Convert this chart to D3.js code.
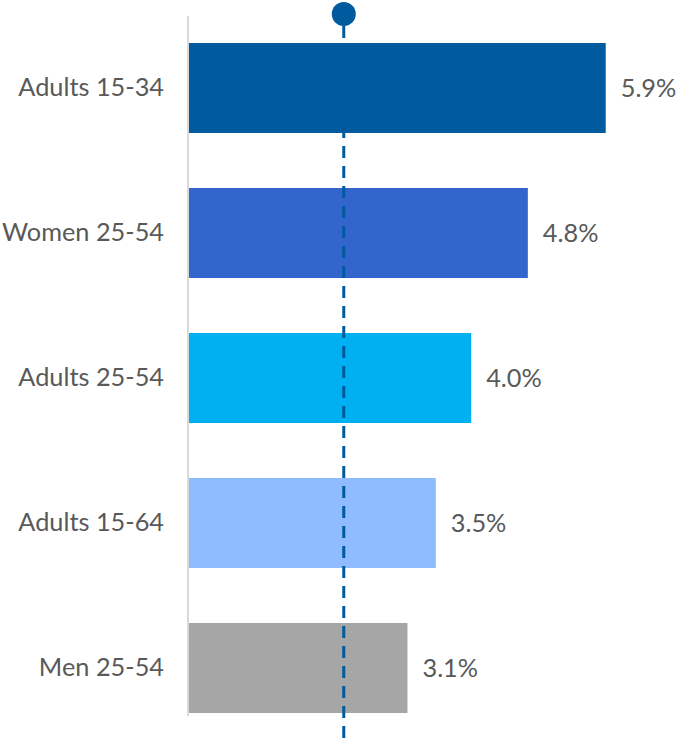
<!DOCTYPE html>
<html>
<head>
<meta charset="utf-8">
<script src="https://cdn.jsdelivr.net/npm/d3@7"></script>
<style>
  html, body { margin: 0; padding: 0; background: #fff; }
  svg { display: block; }
  text { font-family: Lato, "Open Sans", sans-serif; fill: #595959; }
</style>
</head>
<body>
<svg id="chart" width="679" height="739"></svg>
<script>
// Groups and their rates (%), top to bottom
const categories = ["Adults 15-34", "Women 25-54", "Adults 25-54", "Adults 15-64", "Men 25-54"];
const values = [5.9, 4.8, 4.0, 3.5, 3.1];
const barColors = ["#005A9E", "#3366CC", "#00B0F0", "#8FBCFF", "#A6A6A6"];
// Reference marker (%)
const referenceValue = 2.2;

const height = 739;
const fontSize = 25.3;

const svg = d3.select("#chart");

const x = d3.scaleLinear().domain([0, 1]).range([188, 188 + 70.8]);
const y = d3.scaleBand()
  .domain(categories)
  .range([15.5, 15.5 + 145 * categories.length])
  .paddingInner(55 / 145)
  .paddingOuter(27.5 / 145);

// Bars
svg.selectAll("rect.bar")
  .data(categories)
  .join("rect")
  .attr("class", "bar")
  .attr("x", x(0))
  .attr("y", d => y(d))
  .attr("width", (d, i) => x(values[i]) - x(0))
  .attr("height", y.bandwidth())
  .attr("fill", (d, i) => barColors[i]);

// Vertical baseline
svg.append("line")
  .attr("x1", x(0)).attr("x2", x(0))
  .attr("y1", 16).attr("y2", 716)
  .attr("stroke", "#D9D9D9")
  .attr("stroke-width", 2);

// Category labels via left axis
const yAxis = svg.append("g")
  .attr("transform", `translate(${x(0) - 12},0)`)
  .call(d3.axisLeft(y).tickSize(0).tickPadding(12));
yAxis.select(".domain").remove();
yAxis.selectAll("text")
  .attr("fill", "#595959")
  .style("font-size", fontSize + "px")
  .style("font-family", "Lato, 'Open Sans', sans-serif");

// Value labels
svg.selectAll("text.value")
  .data(categories)
  .join("text")
  .attr("class", "value")
  .attr("x", (d, i) => x(values[i]) + 15)
  .attr("y", d => y(d) + y.bandwidth() / 2)
  .attr("dy", "0.35em")
  .style("font-size", fontSize + "px")
  .text((d, i) => values[i].toFixed(1) + "%");

// Reference line with marker
svg.append("line")
  .attr("x1", x(referenceValue)).attr("x2", x(referenceValue))
  .attr("y1", 26).attr("y2", height)
  .attr("stroke", "#005A9E")
  .attr("stroke-width", 3)
  .attr("stroke-dasharray", "12,8");
svg.append("circle")
  .attr("cx", x(referenceValue))
  .attr("cy", 14)
  .attr("r", 12)
  .attr("fill", "#005A9E");
</script>
</body>
</html>
